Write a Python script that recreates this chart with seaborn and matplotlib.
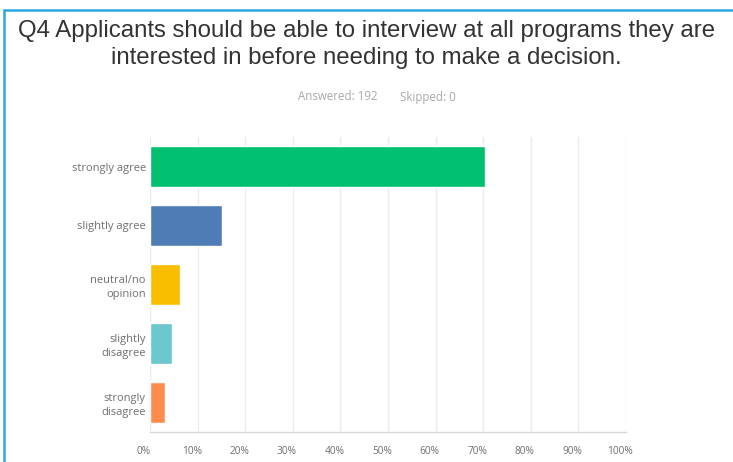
import matplotlib
matplotlib.use("Agg")
import matplotlib.pyplot as plt
import matplotlib.transforms as mtransforms
import seaborn as sns
import pandas as pd
from matplotlib.lines import Line2D

# Survey responses (percent of respondents)
categories = ["strongly agree", "slightly agree", "neutral/no\nopinion",
              "slightly\ndisagree", "strongly\ndisagree"]
percents = [70.31, 15.10, 6.25, 4.69, 3.13]
bar_colors = ["#00BF6F", "#507CB6", "#F9BE00", "#6BC8CD", "#FF8B4F"]
tick_values = [0, 10, 20, 30, 40, 50, 60, 70, 80, 90, 100]
tick_labels = [f"{v}%" for v in tick_values]

title_lines = ["Q4 Applicants should be able to interview at all programs they are",
               "interested in before needing to make a decision."]
answered_text = "Answered: 192"
skipped_text = "Skipped: 0"

df = pd.DataFrame({"answer": categories, "percent": percents})

sns.set_theme(style="white")
plt.rcParams["font.family"] = ["Liberation Sans", "DejaVu Sans"]

fig = plt.figure(figsize=(7.33, 4.62), dpi=100)
ax = fig.add_axes([150 / 733, 30 / 462, 476 / 733, 295 / 462])

sns.barplot(data=df, y="answer", x="percent", hue="answer",
            palette=bar_colors, orient="h", width=0.68, legend=False,
            saturation=1, ax=ax, zorder=3)

ax.set_xlim(0, 100)
ax.set_ylim(4.5, -0.5)
ax.set_xticks(tick_values)
ax.set_xticklabels(tick_labels)
ax.set_xlabel("")
ax.set_ylabel("")
ax.xaxis.grid(True, color="#ececec", linewidth=1.0, zorder=0)
ax.yaxis.grid(False)
for side in ["top", "right", "left"]:
    ax.spines[side].set_visible(False)
ax.spines["bottom"].set_color("#d9d9d9")
ax.spines["bottom"].set_linewidth(1.0)
ax.tick_params(axis="x", length=0, pad=10, labelsize=7.3, labelcolor="#6f6f6f")
ax.tick_params(axis="y", length=0, pad=3, labelsize=8.0, labelcolor="#6f6f6f")

shift_left = mtransforms.ScaledTranslation(-6 / 100, 0, fig.dpi_scale_trans)
for lbl in ax.get_xticklabels():
    lbl.set_family(["Open Sans", "DejaVu Sans"])
    lbl.set_transform(lbl.get_transform() + shift_left)
for lbl in ax.get_yticklabels():
    lbl.set_family(["Open Sans", "DejaVu Sans"])
    lbl.set_horizontalalignment("right")
    lbl.set_multialignment("right")
    lbl.set_linespacing(1.35)

# Title and response counts
fig.text(0.5, 1 - 31 / 462, title_lines[0], ha="center", va="center",
         fontsize=17.3, color="#333333")
fig.text(0.5, 1 - 58 / 462, title_lines[1], ha="center", va="center",
         fontsize=17.3, color="#333333")
fig.text(378 / 733, 1 - 97 / 462, answered_text, ha="right", va="center",
         fontsize=8.3, color="#a8a8a8", family=["Open Sans", "DejaVu Sans"])
fig.text(400 / 733, 1 - 97 / 462, skipped_text, ha="left", va="center",
         fontsize=8.3, color="#a8a8a8", family=["Open Sans", "DejaVu Sans"])

# Light blue frame along the top and left edges
fig.add_artist(Line2D([4 / 733, 4 / 733], [0, 1 - 10 / 462],
                      transform=fig.transFigure, color="#2AA8E0", linewidth=1.8))
fig.add_artist(Line2D([4 / 733, 1], [1 - 10 / 462, 1 - 10 / 462],
                      transform=fig.transFigure, color="#2AA8E0", linewidth=1.8))

fig.savefig("out.png", dpi=100)
